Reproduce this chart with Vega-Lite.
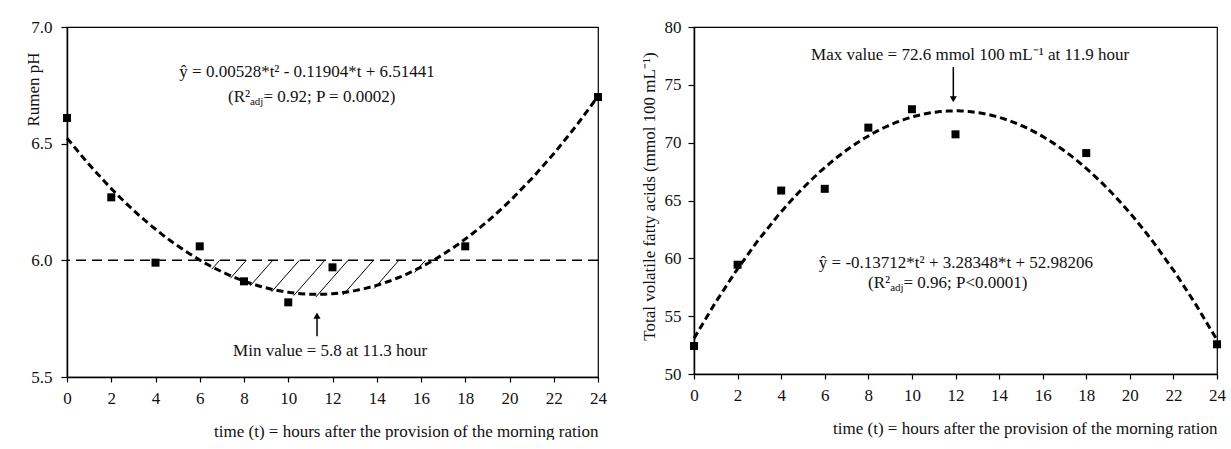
{
  "$schema": "https://vega.github.io/schema/vega-lite/v6.json",
  "background": "white",
  "autosize": {"type": "pad"},
  "padding": {"left": 23, "top": 17, "right": 0, "bottom": 0},
  "bounds": "flush",
  "spacing": 96,
  "config": {
    "font": "Liberation Serif",
    "view": {"stroke": "#000", "strokeWidth": 1.2},
    "axis": {
      "grid": false,
      "domainColor": "#000",
      "domainWidth": 1.5,
      "tickColor": "#000",
      "tickWidth": 1.2,
      "tickSize": 5,
      "labelFont": "Liberation Serif",
      "labelFontSize": 17,
      "labelColor": "#111",
      "labelFlush": false,
      "labelOverlap": false,
      "titleFont": "Liberation Serif",
      "titleFontSize": 17,
      "titleFontWeight": "normal",
      "titleColor": "#111"
    },
    "text": {"font": "Liberation Serif", "fontSize": 17, "color": "#111"}
  },
  "datasets": {
    "ph": [
      {"t": 0, "pH": 6.61},
      {"t": 2, "pH": 6.27},
      {"t": 4, "pH": 5.99},
      {"t": 6, "pH": 6.06},
      {"t": 8, "pH": 5.91},
      {"t": 10, "pH": 5.82},
      {"t": 12, "pH": 5.97},
      {"t": 18, "pH": 6.06},
      {"t": 24, "pH": 6.70}
    ],
    "vfa": [
      {"t": 0, "vfa": 52.42},
      {"t": 2, "vfa": 59.45},
      {"t": 4, "vfa": 65.86},
      {"t": 6, "vfa": 66.01},
      {"t": 8, "vfa": 71.3},
      {"t": 10, "vfa": 72.89},
      {"t": 12, "vfa": 70.72},
      {"t": 18, "vfa": 69.1},
      {"t": 24, "vfa": 52.57}
    ],
    "hatch": [
      {"t1": 6.544, "p1": 5.962, "t2": 6.9, "p2": 6.0},
      {"t1": 7.387, "p1": 5.923, "t2": 8.1, "p2": 6.0},
      {"t1": 8.285, "p1": 5.891, "t2": 9.3, "p2": 6.0},
      {"t1": 9.249, "p1": 5.865, "t2": 10.5, "p2": 6.0},
      {"t1": 10.249, "p1": 5.849, "t2": 11.65, "p2": 6.0},
      {"t1": 11.248, "p1": 5.843, "t2": 12.7, "p2": 6.0},
      {"t1": 12.468, "p1": 5.851, "t2": 13.85, "p2": 6.0},
      {"t1": 13.881, "p1": 5.879, "t2": 15.0, "p2": 6.0},
      {"t1": 15.714, "p1": 5.948, "t2": 16.2, "p2": 6.0}
    ],
    "one": [{}]
  },
  "hconcat": [
    {
      "width": 531,
      "height": 350,
      "layer": [
        {
          "data": {"name": "ph"},
          "mark": {"type": "square", "size": 64, "color": "#000", "opacity": 1},
          "encoding": {
            "x": {"field": "t", "type": "quantitative",
              "scale": {"domain": [0, 24], "nice": false, "zero": false},
              "axis": {"title": "time  (t) = hours after the provision of the morning ration", "values": [0,2,4,6,8,10,12,14,16,18,20,22,24], "labelPadding": 8, "titleAnchor": "end", "titleY": 54, "titleBaseline": "middle"}},
            "y": {"field": "pH", "type": "quantitative",
              "scale": {"domain": [5.5, 7.0], "nice": false, "zero": false},
              "axis": {"title": "Rumen  pH", "values": [5.5, 6.0, 6.5, 7.0], "format": ".1f", "tickSize": 6, "labelPadding": 9, "titleX": -34, "titleY": 62, "titleAlign": "center", "titleBaseline": "middle", "titleAngle": 270}}
          }
        },
        {
          "data": {"name": "hatch"},
          "mark": {"type": "rule", "color": "#000", "strokeWidth": 1},
          "encoding": {
            "x": {"field": "t1", "type": "quantitative", "scale": {"domain": [0, 24], "nice": false, "zero": false}},
            "y": {"field": "p1", "type": "quantitative", "scale": {"domain": [5.5, 7.0], "nice": false, "zero": false}},
            "x2": {"field": "t2"},
            "y2": {"field": "p2"}
          }
        },
        {
          "data": {"name": "one"},
          "mark": {"type": "rule", "color": "#000", "strokeWidth": 1.5, "strokeDash": [10, 6]},
          "encoding": {
            "y": {"datum": 6.0, "type": "quantitative", "scale": {"domain": [5.5, 7.0], "nice": false, "zero": false}}
          }
        },
        {
          "data": {"name": "ph"},
          "transform": [{"regression": "pH", "on": "t", "method": "poly", "order": 2, "extent": [0, 24]}],
          "mark": {"type": "line", "color": "#000", "strokeWidth": 3, "strokeDash": [7, 4]},
          "encoding": {
            "x": {"field": "t", "type": "quantitative", "scale": {"domain": [0, 24], "nice": false, "zero": false}},
            "y": {"field": "pH", "type": "quantitative", "scale": {"domain": [5.5, 7.0], "nice": false, "zero": false}}
          }
        },
        {
          "data": {"name": "one"},
          "mark": {"type": "rule", "color": "#000", "strokeWidth": 1.5},
          "encoding": {
            "x": {"datum": 11.3, "type": "quantitative", "scale": {"domain": [0, 24], "nice": false, "zero": false}},
            "y": {"datum": 5.675, "type": "quantitative", "scale": {"domain": [5.5, 7.0], "nice": false, "zero": false}},
            "y2": {"datum": 5.76}
          }
        },
        {
          "data": {"name": "one"},
          "mark": {"type": "point", "shape": "triangle-up", "filled": true, "size": 50, "color": "#000", "opacity": 1},
          "encoding": {
            "x": {"datum": 11.3, "type": "quantitative", "scale": {"domain": [0, 24], "nice": false, "zero": false}},
            "y": {"datum": 5.763, "type": "quantitative", "scale": {"domain": [5.5, 7.0], "nice": false, "zero": false}}
          }
        },
        {
          "data": {"name": "one"},
          "mark": {"type": "text", "align": "center", "baseline": "middle", "text": "Min value = 5.8  at 11.3  hour"},
          "encoding": {
            "x": {"datum": 11.89, "type": "quantitative", "scale": {"domain": [0, 24], "nice": false, "zero": false}},
            "y": {"datum": 5.611, "type": "quantitative", "scale": {"domain": [5.5, 7.0], "nice": false, "zero": false}}
          }
        },
        {
          "data": {"name": "one"},
          "mark": {"type": "text", "align": "center", "baseline": "middle", "text": "ŷ = 0.00528*t² - 0.11904*t  + 6.51441"},
          "encoding": {
            "x": {"datum": 10.85, "type": "quantitative", "scale": {"domain": [0, 24], "nice": false, "zero": false}},
            "y": {"datum": 6.808, "type": "quantitative", "scale": {"domain": [5.5, 7.0], "nice": false, "zero": false}}
          }
        },
        {
          "data": {"name": "one"},
          "mark": {"type": "text", "align": "left", "baseline": "middle", "text": "(R²"},
          "encoding": {
            "x": {"datum": 7.28, "type": "quantitative", "scale": {"domain": [0, 24], "nice": false, "zero": false}},
            "y": {"datum": 6.70, "type": "quantitative", "scale": {"domain": [5.5, 7.0], "nice": false, "zero": false}}
          }
        },
        {
          "data": {"name": "one"},
          "mark": {"type": "text", "align": "left", "baseline": "middle", "fontSize": 11, "dy": 5, "text": "adj"},
          "encoding": {
            "x": {"datum": 8.27, "type": "quantitative", "scale": {"domain": [0, 24], "nice": false, "zero": false}},
            "y": {"datum": 6.70, "type": "quantitative", "scale": {"domain": [5.5, 7.0], "nice": false, "zero": false}}
          }
        },
        {
          "data": {"name": "one"},
          "mark": {"type": "text", "align": "left", "baseline": "middle", "text": " = 0.92;  P = 0.0002)"},
          "encoding": {
            "x": {"datum": 8.88, "type": "quantitative", "scale": {"domain": [0, 24], "nice": false, "zero": false}},
            "y": {"datum": 6.70, "type": "quantitative", "scale": {"domain": [5.5, 7.0], "nice": false, "zero": false}}
          }
        }
      ]
    },
    {
      "width": 523,
      "height": 347,
      "layer": [
        {
          "data": {"name": "vfa"},
          "mark": {"type": "square", "size": 64, "color": "#000", "opacity": 1},
          "encoding": {
            "x": {"field": "t", "type": "quantitative",
              "scale": {"domain": [0, 24], "nice": false, "zero": false},
              "axis": {"title": "time  (t) = hours after the provision of the morning ration", "values": [0,2,4,6,8,10,12,14,16,18,20,22,24], "labelPadding": 8, "titleAnchor": "end", "titleY": 54, "titleBaseline": "middle"}},
            "y": {"field": "vfa", "type": "quantitative",
              "scale": {"domain": [50, 80], "nice": false, "zero": false},
              "axis": {"title": "Total volatile fatty acids (mmol  100  mL⁻¹)", "values": [50, 55, 60, 65, 70, 75, 80], "tickSize": 6, "labelPadding": 7, "titleX": -45, "titleY": 169, "titleAlign": "center", "titleBaseline": "middle", "titleAngle": 270}}
          }
        },
        {
          "data": {"name": "vfa"},
          "transform": [{"regression": "vfa", "on": "t", "method": "poly", "order": 2, "extent": [0, 24]}],
          "mark": {"type": "line", "color": "#000", "strokeWidth": 3, "strokeDash": [7, 4]},
          "encoding": {
            "x": {"field": "t", "type": "quantitative", "scale": {"domain": [0, 24], "nice": false, "zero": false}},
            "y": {"field": "vfa", "type": "quantitative", "scale": {"domain": [50, 80], "nice": false, "zero": false}}
          }
        },
        {
          "data": {"name": "one"},
          "mark": {"type": "rule", "color": "#000", "strokeWidth": 1.5},
          "encoding": {
            "x": {"datum": 11.9, "type": "quantitative", "scale": {"domain": [0, 24], "nice": false, "zero": false}},
            "y": {"datum": 76.53, "type": "quantitative", "scale": {"domain": [50, 80], "nice": false, "zero": false}},
            "y2": {"datum": 73.8}
          }
        },
        {
          "data": {"name": "one"},
          "mark": {"type": "point", "shape": "triangle-down", "filled": true, "size": 50, "color": "#000", "opacity": 1},
          "encoding": {
            "x": {"datum": 11.9, "type": "quantitative", "scale": {"domain": [0, 24], "nice": false, "zero": false}},
            "y": {"datum": 73.75, "type": "quantitative", "scale": {"domain": [50, 80], "nice": false, "zero": false}}
          }
        },
        {
          "data": {"name": "one"},
          "mark": {"type": "text", "align": "center", "baseline": "middle", "text": "Max value = 72.6  mmol  100  mL⁻¹ at 11.9  hour"},
          "encoding": {
            "x": {"datum": 12.67, "type": "quantitative", "scale": {"domain": [0, 24], "nice": false, "zero": false}},
            "y": {"datum": 77.57, "type": "quantitative", "scale": {"domain": [50, 80], "nice": false, "zero": false}}
          }
        },
        {
          "data": {"name": "one"},
          "mark": {"type": "text", "align": "center", "baseline": "middle", "text": "ŷ = -0.13712*t²  + 3.28348*t  + 52.98206"},
          "encoding": {
            "x": {"datum": 12.02, "type": "quantitative", "scale": {"domain": [0, 24], "nice": false, "zero": false}},
            "y": {"datum": 59.62, "type": "quantitative", "scale": {"domain": [50, 80], "nice": false, "zero": false}}
          }
        },
        {
          "data": {"name": "one"},
          "mark": {"type": "text", "align": "left", "baseline": "middle", "text": "(R²"},
          "encoding": {
            "x": {"datum": 7.99, "type": "quantitative", "scale": {"domain": [0, 24], "nice": false, "zero": false}},
            "y": {"datum": 57.88, "type": "quantitative", "scale": {"domain": [50, 80], "nice": false, "zero": false}}
          }
        },
        {
          "data": {"name": "one"},
          "mark": {"type": "text", "align": "left", "baseline": "middle", "fontSize": 11, "dy": 5, "text": "adj"},
          "encoding": {
            "x": {"datum": 9.0, "type": "quantitative", "scale": {"domain": [0, 24], "nice": false, "zero": false}},
            "y": {"datum": 57.88, "type": "quantitative", "scale": {"domain": [50, 80], "nice": false, "zero": false}}
          }
        },
        {
          "data": {"name": "one"},
          "mark": {"type": "text", "align": "left", "baseline": "middle", "text": " = 0.96;  P<0.0001)"},
          "encoding": {
            "x": {"datum": 9.61, "type": "quantitative", "scale": {"domain": [0, 24], "nice": false, "zero": false}},
            "y": {"datum": 57.88, "type": "quantitative", "scale": {"domain": [50, 80], "nice": false, "zero": false}}
          }
        }
      ]
    }
  ]
}
